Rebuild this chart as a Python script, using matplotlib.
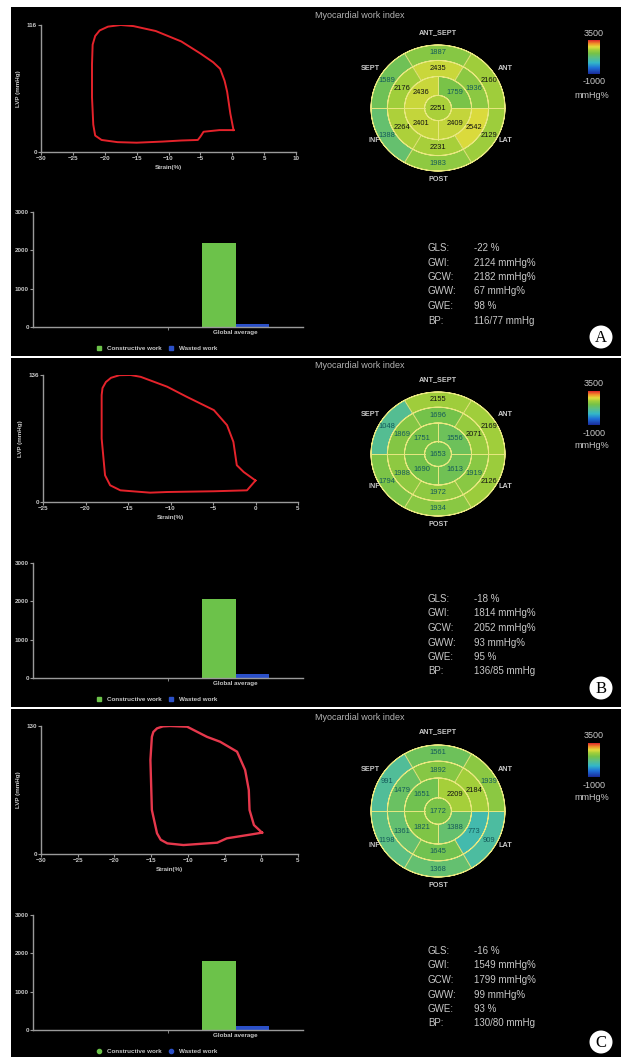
import numpy as np
import matplotlib.pyplot as plt
from matplotlib.patches import Wedge, Rectangle, Ellipse
from matplotlib.colors import LinearSegmentedColormap, Normalize
from matplotlib.cm import ScalarMappable
from matplotlib.lines import Line2D

plt.rcParams['font.family'] = ['Liberation Sans', 'DejaVu Sans']

# ---- data ----
panel_names = ['A', 'B', 'C']

# pressure-strain loops (strain %, LV pressure mmHg)
strain_a = [0.2, -2, -4.5, -5.0, -5.4, -8, -11, -15, -18, -20.5, -21.5, -21.8, -22, -22,
            -21.9, -21.5, -20.8, -19.5, -17.5, -15.5, -12, -8, -5, -3, -1.9, -1.2, -0.8, -0.3]
lvp_a = [20, 20, 18.5, 14, 11, 10.5, 9.5, 8.5, 9, 11, 15, 25, 50, 80,
         98, 106, 111, 114.5, 116, 115, 110.5, 101, 90, 82, 76, 65, 55, 35]
strain_b = [0.0, -1.0, -4.9, -10.4, -12.4, -15.9, -17.1, -17.7, -18.1, -18.1, -18.0, -17.6,
            -17.0, -16.0, -14.7, -13.5, -10.4, -8.1, -4.9, -3.35, -2.6, -2.2, -1.4]
lvp_b = [23, 12.5, 11.5, 10.7, 10, 12.5, 17.9, 28.6, 68, 114.5, 122, 128.5,
         133, 135.8, 136, 134, 123.5, 112.7, 98.4, 82.3, 64.4, 39.4, 32.2]
strain_c = [0.1, -1.0, -4.7, -6.0, -10.6, -12.8, -13.7, -14.2, -14.9, -15.1, -14.9, -14.7,
            -14.2, -13.4, -12.4, -10.1, -7.4, -5.6, -3.3, -2.2, -1.7, -1.6, -1.0]
lvp_c = [21.7, 20.3, 15.9, 11.5, 9.1, 10.8, 14.5, 21, 44.7, 95.5, 119, 124,
         127.6, 129.6, 130, 129.3, 119, 114, 103.9, 85.3, 65, 44.7, 29.4]
lvp_max = [116, 136, 130]
strain_lims = [(-30, 10), (-25, 5), (-30, 5)]

# bull's eye segments, order ANT_SEPT, ANT, LAT, POST, INF, SEPT
basal_a = [1887, 2160, 2129, 1983, 1388, 1589]
mid_a = [2435, 1936, 2542, 2231, 2264, 2176]
basal_b = [2155, 2169, 2126, 1934, 1794, 1048]
mid_b = [1696, 2071, 1919, 1972, 1988, 1869]
basal_c = [1561, 1939, 909, 1368, 1198, 991]
mid_c = [1892, 2184, 773, 1645, 1361, 1479]
# apical order: upper right, lower right, lower left, upper left
apical_a = [1759, 2409, 2401, 2436]
apical_b = [1556, 1613, 1690, 1751]
apical_c = [2209, 1388, 1821, 1651]
apex = [2251, 1653, 1772]
wall_names = ['ANT_SEPT', 'ANT', 'LAT', 'POST', 'INF', 'SEPT']

# global indices
gls = [-22, -18, -16]
gwi = [2124, 1814, 1549]
gcw = [2182, 2052, 1799]
gww = [67, 93, 99]
gwe = [98, 95, 93]
bp = ['116/77', '136/85', '130/80']

loops = [(strain_a, lvp_a), (strain_b, lvp_b), (strain_c, lvp_c)]
rings = [(basal_a, mid_a, apical_a), (basal_b, mid_b, apical_b), (basal_c, mid_c, apical_c)]

# ---- styling ----
W, H = 621, 1057
grey = '#c8c8c8'
green = '#6cc24a'
blue = '#2b50c8'
cmap = LinearSegmentedColormap.from_list('mw', [
    (0.0, '#1a2a9a'), (0.18, '#1f6fd8'), (0.33, '#33b7c8'), (0.47, '#58be8c'),
    (0.6, '#74c24a'), (0.71, '#a2ce3a'), (0.8, '#e2dc3c'), (0.89, '#f0962a'),
    (1.0, '#e0262a')])
norm = Normalize(-1000, 3500)

fig = plt.figure(figsize=(W / 100, H / 100), dpi=100, facecolor='white')


def box(x0, y0, x1, y1):
    return [x0 / W, 1 - y1 / H, (x1 - x0) / W, (y1 - y0) / H]


def fxy(x, y):
    return (x / W, 1 - y / H)


panel_top = [7, 358, 709]
panel_bot = [356, 707, 1057]
offs = [0, 351, 703]
loop_box = [(41, 25, 296, 152), (43, 375, 298, 502), (41, 726, 298, 854)]
loop_color = ['#e5232b', '#e5232b', '#e6384c']
loop_lw = [1.4, 1.4, 1.7]
bull_center = [(438, 108), (438, 454), (438, 811)]
bull_r = [(67, 63), (67, 62), (67, 66)]


def seg_text_color(v):
    return '#145a5a' if v < 2000 else '#111111'


def style_axes(ax):
    ax.set_facecolor('black')
    for s in ['top', 'right']:
        ax.spines[s].set_visible(False)
    for s in ['left', 'bottom']:
        ax.spines[s].set_color('#9a9a9a')
        ax.spines[s].set_linewidth(1)
    ax.tick_params(colors='#9a9a9a', labelcolor=grey, labelsize=4.5, length=2,
                   width=0.8, pad=1)
    for t in ax.get_xticklabels() + ax.get_yticklabels():
        t.set_fontweight('bold')


for i in range(3):
    d = offs[i]
    fig.add_artist(Rectangle(fxy(11, panel_bot[i]), (W - 11) / W,
                             (panel_bot[i] - panel_top[i]) / H,
                             transform=fig.transFigure, fc='black', ec='none', zorder=0))

    # pressure-strain loop
    x0, y0, x1, y1 = loop_box[i]
    ax = fig.add_axes(box(x0, y0, x1, y1))
    s, p = loops[i]
    ax.plot(np.append(s, s[0]), np.append(p, p[0]), color=loop_color[i], lw=loop_lw[i],
            solid_joinstyle='round')
    lo, hi = strain_lims[i]
    ax.set_xlim(lo, hi)
    ax.set_ylim(0, lvp_max[i])
    ax.set_xticks(np.arange(lo, hi + 1, 5))
    ax.set_yticks([0, lvp_max[i]])
    style_axes(ax)
    ax.set_xlabel('Strain(%)', fontsize=4.5, color=grey, fontweight='bold', labelpad=3)
    ax.set_ylabel('LVP (mmHg)', fontsize=4.5, color=grey, fontweight='bold', labelpad=4)

    # bar chart
    bx = fig.add_axes(box(33, 212 + d, 303, 327 + d))
    bx.bar(1.5 - 0.125, gcw[i], 0.25, color=green)
    bx.bar(1.5 + 0.125, gww[i], 0.25, color=blue)
    bx.set_xlim(0, 2)
    bx.set_ylim(0, 3000)
    bx.set_yticks([0, 1000, 2000, 3000])
    bx.set_xticks([1.5], ['Global average'])
    bx.set_xticks([1], minor=True)
    style_axes(bx)
    bx.tick_params(axis='x', which='major', length=0, pad=2)
    bx.tick_params(axis='x', which='minor', length=2, colors='#9a9a9a')
    mk = 'o' if i == 2 else 's'
    handles = [Line2D([], [], marker=mk, ls='', color=green, ms=3),
               Line2D([], [], marker=mk, ls='', color=blue, ms=3)]
    fig.legend(handles, ['Constructive work', 'Wasted work'], loc='center',
               bbox_to_anchor=fxy(155, 348 + d), ncol=2, frameon=False,
               labelcolor=grey, handletextpad=0.2, columnspacing=0.6,
               prop={'weight': 'bold', 'size': 4.5})

    # bull's eye
    cx, cy = bull_center[i]
    rx, ry = bull_r[i]
    k = 1.45
    ex = fig.add_axes(box(cx - rx * k, cy - ry * k, cx + rx * k, cy + ry * k))
    ex.set_xlim(-k, k)
    ex.set_ylim(-k, k)
    ex.set_axis_off()
    basal, mid, apical = rings[i]
    six = [90, 30, -30, -90, -150, 150]
    four = [45, -45, -135, 135]
    r_out, r_mid, r_ap, r_cap = 1.0, 0.755, 0.5, 0.2
    for vals, ro, ri, rt in [(basal, r_out, r_mid, 0.88), (mid, r_mid, r_ap, 0.62)]:
        for a, v in zip(six, vals):
            ex.add_patch(Wedge((0, 0), ro, a - 30, a + 30, width=ro - ri,
                               fc=cmap(norm(v)), ec='none'))
            ex.text(rt * np.cos(np.radians(a)), rt * np.sin(np.radians(a)), str(v),
                    ha='center', va='center', fontsize=5.4, color=seg_text_color(v))
    for a, v in zip(four, apical):
        ex.add_patch(Wedge((0, 0), r_ap, a - 45, a + 45, width=r_ap - r_cap,
                           fc=cmap(norm(v)), ec='none'))
        ex.text(0.35 * np.cos(np.radians(a)), 0.35 * np.sin(np.radians(a)), str(v),
                ha='center', va='center', fontsize=5.4, color=seg_text_color(v))
    ex.add_patch(Wedge((0, 0), r_cap, 0, 360, fc=cmap(norm(apex[i])), ec='none'))
    ex.text(0, 0, str(apex[i]), ha='center', va='center', fontsize=5.4,
            color=seg_text_color(apex[i]))
    line_c = '#e8e880'
    for r in [r_out, r_mid, r_ap, r_cap]:
        ex.add_patch(Wedge((0, 0), r, 0, 360, width=0.0001, fc='none', ec=line_c, lw=0.7))
    for a in [0, 60, 120, 180, 240, 300]:
        ex.plot([r_ap * np.cos(np.radians(a)), np.cos(np.radians(a))],
                [r_ap * np.sin(np.radians(a)), np.sin(np.radians(a))], color=line_c, lw=0.7)
    for a in [0, 90, 180, 270]:
        ex.plot([r_cap * np.cos(np.radians(a)), r_ap * np.cos(np.radians(a))],
                [r_cap * np.sin(np.radians(a)), r_ap * np.sin(np.radians(a))], color=line_c, lw=0.7)
    lab_pos = [(0, 1.2, 'center'), (0.9, 0.63, 'left'), (0.9, -0.52, 'left'),
               (0, -1.13, 'center'), (-0.86, -0.52, 'right'), (-0.86, 0.63, 'right')]
    for name, (lx, ly, ha) in zip(wall_names, lab_pos):
        ex.text(lx, ly, name, ha=ha, va='center', fontsize=5.2, color=grey, fontweight='bold')

    fig.text(*fxy(360, 15 + d), 'Myocardial work index', ha='center', va='center',
             fontsize=6.5, color='#b4b4b4')

    # colour bar
    cax = fig.add_axes(box(588, 40 + d, 600, 74 + d))
    cb = fig.colorbar(ScalarMappable(norm=norm, cmap=cmap), cax=cax)
    cb.outline.set_visible(False)
    cax.set_yticks([])
    fig.text(*fxy(594, 33 + d), '3500', ha='center', va='center', fontsize=6.5, color=grey)
    fig.text(*fxy(594, 82 + d), '-1000', ha='center', va='center', fontsize=6.5, color=grey)
    fig.text(*fxy(592, 95 + d), 'mmHg%', ha='center', va='center', fontsize=6.5, color=grey)

    # global indices
    names = ['GLS:', 'GWI:', 'GCW:', 'GWW:', 'GWE:', 'BP:']
    vals = [f'{gls[i]} %', f'{gwi[i]} mmHg%', f'{gcw[i]} mmHg%', f'{gww[i]} mmHg%',
            f'{gwe[i]} %', f'{bp[i]} mmHg']
    for j, (n, v) in enumerate(zip(names, vals)):
        y = 248 + d + j * 14.5
        fig.text(*fxy(428, y), n, ha='left', va='center', fontsize=7, color=grey)
        fig.text(*fxy(474, y), v, ha='left', va='center', fontsize=7, color=grey)

    # panel letter
    ly = [337, 688, 1042][i]
    fig.add_artist(Ellipse(fxy(601, ly), 23 / W, 23 / H, transform=fig.transFigure,
                           fc='white', ec='none', zorder=5))
    fig.text(*fxy(601, ly + 1), panel_names[i], ha='center', va='center', fontsize=12,
             family='Liberation Serif', color='black', zorder=6)

fig.savefig('out.png', dpi=100, facecolor='white')
